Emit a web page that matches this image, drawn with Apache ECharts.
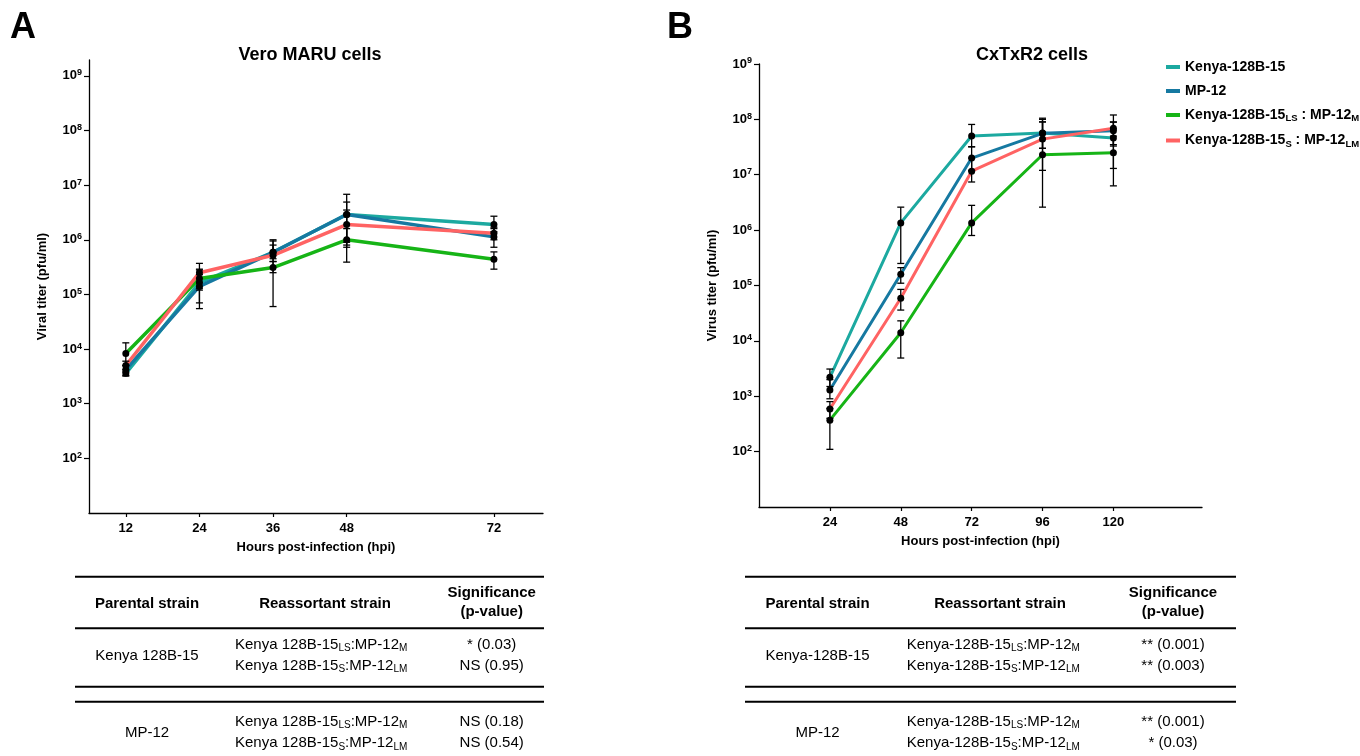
<!DOCTYPE html>
<html>
<head>
<meta charset="utf-8">
<script src="https://cdn.jsdelivr.net/npm/echarts@6/dist/echarts.min.js"></script>
<style>
  html, body { margin: 0; padding: 0; background: #fff; }
  #main { width: 1360px; height: 756px; }
</style>
</head>
<body>
<div id="main"></div>
<script>
// --- data ---
const hoursA = [12, 24, 36, 48, 72];
const kenyaA = [3.6e3, 1.65e5, 5.9e5, 2.9e6, 1.9e6];
const mp12A = [4.2e3, 1.4e5, 5.9e5, 2.9e6, 1.13e6];
const lsA = [8.3e3, 1.95e5, 3.1e5, 1.0e6, 4.4e5];
const sA = [5.0e3, 2.5e5, 5.2e5, 1.9e6, 1.32e6];
// [low, high] of each error bar
const kenyaErrA = [[3.2e3, 4.2e3], [1.2e5, 2.3e5], [4.5e5, 8e5], [9e5, 6.8e6], [1.4e6, 2.7e6]];
const mp12ErrA = [[3.3e3, 5e3], [7e4, 2.8e5], [4e5, 1e6], [7.3e5, 4.9e6], [7.3e5, 1.6e6]];
const lsErrA = [[5e3, 1.3e4], [1.3e5, 2.9e5], [6e4, 4e5], [3.9e5, 1.6e6], [2.9e5, 6e5]];
const sErrA = [[3.8e3, 6e3], [5.5e4, 3.7e5], [2.5e5, 9.5e5], [8e5, 3.5e6], [1e6, 1.7e6]];

const hoursB = [24, 48, 72, 96, 120];
const kenyaB = [2.2e3, 1.35e6, 5.0e7, 5.7e7, 4.6e7];
const mp12B = [1.3e3, 1.6e5, 2.0e7, 5.6e7, 6.2e7];
const lsB = [3.7e2, 1.4e4, 1.35e6, 2.3e7, 2.5e7];
const sB = [5.9e2, 5.9e4, 1.16e7, 4.4e7, 6.9e7];
const kenyaErrB = [[1.5e3, 3.1e3], [2.5e5, 2.6e6], [3.2e7, 8.1e7], [3e7, 1.05e8], [3.3e7, 8.9e7]];
const mp12ErrB = [[9e2, 2e3], [1.1e5, 2.1e5], [1.2e7, 3.2e7], [3e7, 9e7], [3.5e7, 1.2e8]];
const lsErrB = [[1.1e2, 6e2], [4.9e3, 2.3e4], [8e5, 2.8e6], [2.6e6, 9e7], [6.3e6, 5e7]];
const sErrB = [[4e2, 8e2], [3.6e4, 8.5e4], [7.4e6, 2e7], [1.2e7, 1e8], [1.3e7, 9e7]];

const seriesNames = ['Kenya-128B-15', 'MP-12', 'Kenya-128B-15LS : MP-12M', 'Kenya-128B-15S : MP-12LM'];
const legendLabels = [
  '{n|Kenya-128B-15}',
  '{n|MP-12}',
  '{n|Kenya-128B-15}{s|LS}{n| : MP-12}{s|M}',
  '{n|Kenya-128B-15}{s|S}{n| : MP-12}{s|LM}'
];
const colors = ['#1ca9a0', '#1679a1', '#16b416', '#ff6363'];
const yTicks = [1e2, 1e3, 1e4, 1e5, 1e6, 1e7, 1e8, 1e9];

// table rows
const tableA = {
  parents: ['Kenya 128B-15', 'MP-12'],
  reassort: ['{n|Kenya 128B-15}{s|LS}{n|:MP-12}{s|M}', '{n|Kenya 128B-15}{s|S}{n|:MP-12}{s|LM}'],
  sig: [['* (0.03)', 'NS (0.95)'], ['NS (0.18)', 'NS (0.54)']]
};
const tableB = {
  parents: ['Kenya-128B-15', 'MP-12'],
  reassort: ['{n|Kenya-128B-15}{s|LS}{n|:MP-12}{s|M}', '{n|Kenya-128B-15}{s|S}{n|:MP-12}{s|LM}'],
  sig: [['** (0.001)', '** (0.003)'], ['** (0.001)', '* (0.03)']]
};

const FONT = '"Liberation Sans", Arial, sans-serif';

const chart = echarts.init(document.getElementById('main'));

function renderErr(params, api) {
  const x = api.value(0);
  const p = api.coord([x, api.value(1)]);
  const lo = api.coord([x, api.value(2)]);
  const hi = api.coord([x, api.value(3)]);
  const w = 3.5;
  const st = { stroke: '#000', lineWidth: 1.3 };
  return {
    type: 'group',
    children: [
      { type: 'line', shape: { x1: lo[0], y1: lo[1], x2: hi[0], y2: hi[1] }, style: st },
      { type: 'line', shape: { x1: lo[0] - w, y1: lo[1], x2: lo[0] + w, y2: lo[1] }, style: st },
      { type: 'line', shape: { x1: hi[0] - w, y1: hi[1], x2: hi[0] + w, y2: hi[1] }, style: st },
      { type: 'circle', shape: { cx: p[0], cy: p[1], r: 3.5 }, style: { fill: '#000' } }
    ]
  };
}

function makeSeries(idx, hours, means, errs, width) {
  const out = [];
  means.forEach((vals, k) => {
    out.push({
      name: seriesNames[k],
      type: 'line',
      xAxisIndex: idx,
      yAxisIndex: idx,
      showSymbol: false,
      z: 2,
      color: colors[k],
      lineStyle: { color: colors[k], width: width },
      data: hours.map((h, i) => [h, vals[i]])
    });
  });
  means.forEach((vals, k) => {
    out.push({
      name: seriesNames[k],
      type: 'custom',
      xAxisIndex: idx,
      yAxisIndex: idx,
      z: 4,
      clip: false,
      renderItem: renderErr,
      encode: { x: 0, y: 1 },
      data: hours.map((h, i) => [h, vals[i], errs[k][i][0], errs[k][i][1]])
    });
  });
  return out;
}

const axisLine = { lineStyle: { color: '#000', width: 1.3 } };
const boldLabel = { color: '#000', fontFamily: FONT, fontWeight: 'bold', fontSize: 13 };

function yAxisFor(idx, max, name) {
  return {
    type: 'log',
    logBase: 10,
    gridIndex: idx,
    min: 10,
    max: max,
    name: name,
    nameLocation: 'middle',
    nameGap: 40,
    nameTextStyle: Object.assign({}, boldLabel),
    axisLine: Object.assign({ show: true }, axisLine),
    axisTick: { show: true, length: 5, lineStyle: { color: '#000', width: 1.2 }, customValues: yTicks },
    splitLine: { show: false },
    minorTick: { show: false },
    axisLabel: {
      customValues: yTicks,
      margin: 7,
      formatter: v => '{b|10}{p|' + Math.round(Math.log10(v)) + '}',
      rich: {
        b: { fontFamily: FONT, fontWeight: 'bold', fontSize: 13, lineHeight: 15, color: '#000' },
        p: { fontFamily: FONT, fontWeight: 'bold', fontSize: 9, lineHeight: 9, verticalAlign: 'top', color: '#000' }
      }
    }
  };
}

function xAxisFor(idx, min, max, ticks) {
  return {
    type: 'value',
    gridIndex: idx,
    min: min,
    max: max,
    name: 'Hours post-infection (hpi)',
    nameLocation: 'middle',
    nameGap: 28,
    nameTextStyle: Object.assign({}, boldLabel),
    axisLine: axisLine,
    axisTick: { show: true, length: 4, lineStyle: { color: '#000', width: 1.2 }, customValues: ticks },
    splitLine: { show: false },
    axisLabel: Object.assign({ customValues: ticks, margin: 9 }, boldLabel)
  };
}

// table graphics
function tableGraphics(t, x0, x1, c1, c2Left, c3, c2Head) {
  const g = [];
  const lineY = [576.7, 628.3, 686.7, 701.7];
  lineY.forEach(y => g.push({
    type: 'line', shape: { x1: x0, y1: y, x2: x1, y2: y }, style: { stroke: '#000', lineWidth: 2 }
  }));
  const head = { fontFamily: FONT, fontWeight: 'bold', fontSize: 15, fill: '#000', align: 'center', verticalAlign: 'middle' };
  g.push({ type: 'text', x: c1, y: 603.5, style: Object.assign({ text: 'Parental strain' }, head) });
  g.push({ type: 'text', x: c2Head, y: 603.5, style: Object.assign({ text: 'Reassortant strain' }, head) });
  g.push({ type: 'text', x: c3, y: 592.7, style: Object.assign({ text: 'Significance' }, head) });
  g.push({ type: 'text', x: c3, y: 611.7, style: Object.assign({ text: '(p-value)' }, head) });
  const body = { fontFamily: FONT, fontSize: 15, fill: '#000', verticalAlign: 'middle' };
  const rich = {
    n: { fontFamily: FONT, fontSize: 15, lineHeight: 17, fill: '#000' },
    s: { fontFamily: FONT, fontSize: 10, lineHeight: 10, verticalAlign: 'bottom', fill: '#000' }
  };
  const rowY = [[645, 666], [721.7, 743.3]];
  const parentY = [655.7, 733];
  t.parents.forEach((p, gi) => {
    g.push({ type: 'text', x: c1, y: parentY[gi], style: Object.assign({ text: p, align: 'center' }, body) });
    t.reassort.forEach((r, ri) => {
      g.push({
        type: 'text', x: c2Left, y: rowY[gi][ri],
        style: Object.assign({ text: r, rich: rich, align: 'left' }, body)
      });
      g.push({
        type: 'text', x: c3, y: rowY[gi][ri],
        style: Object.assign({ text: t.sig[gi][ri], align: 'center' }, body)
      });
    });
  });
  return g;
}

const option = {
  animation: false,
  backgroundColor: '#fff',
  grid: [
    { left: 89, top: 60, width: 454, height: 453 },
    { left: 759, top: 64, width: 443, height: 443 }
  ],
  legend: {
    orient: 'vertical',
    left: 1166,
    top: 60,
    padding: 0,
    itemWidth: 14,
    itemHeight: 4,
    itemGap: 10,
    icon: 'rect',
    data: seriesNames.map((n, i) => ({ name: n, itemStyle: { color: colors[i] } })),
    formatter: name => legendLabels[seriesNames.indexOf(name)],
    textStyle: {
      rich: {
        n: { fontFamily: FONT, fontWeight: 'bold', fontSize: 14, lineHeight: 17, color: '#000' },
        s: { fontFamily: FONT, fontWeight: 'bold', fontSize: 9.5, lineHeight: 9, verticalAlign: 'bottom', color: '#000' }
      }
    }
  },
  xAxis: [
    xAxisFor(0, 6, 80, hoursA),
    xAxisFor(1, 0, 150, hoursB)
  ],
  yAxis: [
    yAxisFor(0, 1.95e9, 'Viral titer (pfu/ml)'),
    yAxisFor(1, 1e9, 'Virus titer (pfu/ml)')
  ],
  series: [].concat(
    makeSeries(0, hoursA, [kenyaA, mp12A, lsA, sA], [kenyaErrA, mp12ErrA, lsErrA, sErrA], 3.5),
    makeSeries(1, hoursB, [kenyaB, mp12B, lsB, sB], [kenyaErrB, mp12ErrB, lsErrB, sErrB], 3)
  ),
  graphic: [].concat(
    [
      { type: 'text', x: 10, y: 28.5, style: { text: 'A', fontFamily: FONT, fontWeight: 'bold', fontSize: 36, fill: '#000', verticalAlign: 'middle' } },
      { type: 'text', x: 667, y: 28.5, style: { text: 'B', fontFamily: FONT, fontWeight: 'bold', fontSize: 36, fill: '#000', verticalAlign: 'middle' } },
      { type: 'text', x: 310, y: 55.5, style: { text: 'Vero MARU cells', fontFamily: FONT, fontWeight: 'bold', fontSize: 18, fill: '#000', align: 'center', verticalAlign: 'middle' } },
      { type: 'text', x: 1032, y: 55.5, style: { text: 'CxTxR2 cells', fontFamily: FONT, fontWeight: 'bold', fontSize: 18, fill: '#000', align: 'center', verticalAlign: 'middle' } }
    ],
    tableGraphics(tableA, 75, 544, 147, 235, 491.7, 325),
    tableGraphics(tableB, 745, 1236, 817.5, 906.7, 1173, 1000)
  )
};

chart.setOption(option);
</script>
</body>
</html>
